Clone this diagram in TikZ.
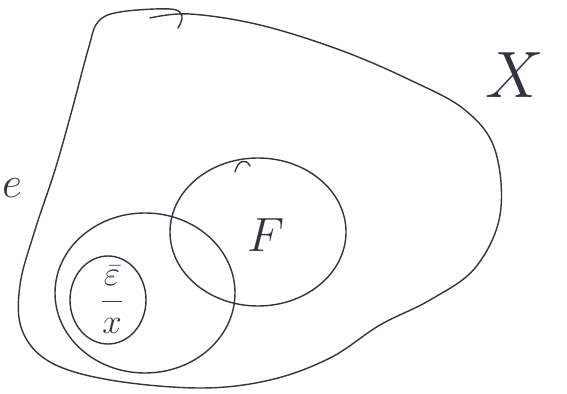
\documentclass[tikz,border=0pt]{standalone}
\usepackage{tikz}
\usetikzlibrary{positioning,calc}
\definecolor{InkGray}{RGB}{50, 52, 64}

\begin{document}
\begin{tikzpicture}[x=0.02cm, y=-0.02cm,
        ink/.style={draw=InkGray, line width=0.8pt, line cap=round, line join=round},
        lbl/.style={text=InkGray, font=\Huge, inner sep=0pt}]
        \useasboundingbox (0,0) rectangle (567,394);

        % space X
        \draw[ink] plot[smooth, tension=0.6] coordinates {
          (178,28) (182,16) (170,9) (120,12) (98,22) (88,50) (72,110) (55,170)
          (35,230) (20,285) (22,330) (50,362) (110,380) (200,388) (270,380)
          (330,358) (380,325) (430,300) (475,268) (500,215) (495,150)
          (465,110) (410,80) (340,50) (260,25) (190,14) (150,18)};

        % sets
        \draw[ink] (145,293) ellipse [x radius=90, y radius=80];
        \draw[ink] (258,232) ellipse [x radius=88, y radius=74];
        \draw[ink] (235,172) .. controls (238,160) and (246,158) .. (250,166);
        \draw[ink] (108,300) ellipse [x radius=38, y radius=44];

        % labels
        \node[lbl, scale=1.5] (lx) at (515,75) {$X$};
        \node[lbl, scale=1.1] (lf) at (266,235) {$F$};
        \node[lbl] (le) at (12,188) {$e$};
        \node[lbl, scale=0.8] (lq) at (112,300) {$\displaystyle\frac{\bar{\varepsilon}}{x}$};
      \end{tikzpicture}
\end{document}
